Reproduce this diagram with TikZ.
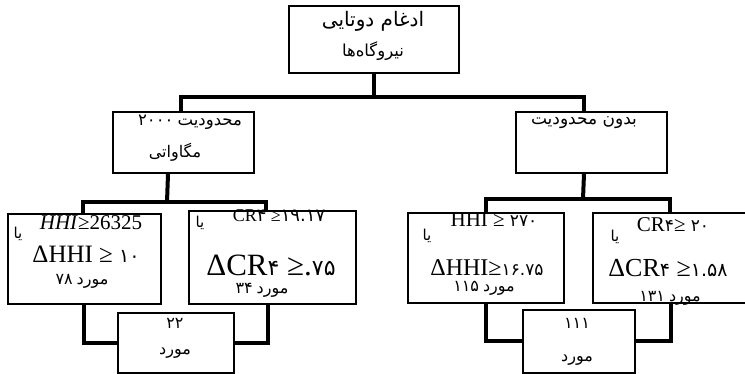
\documentclass[tikz,border=0pt]{standalone}
\usepackage{fontspec}
\setmainfont{Liberation Serif}
\newfontfamily\fa[Script=Arabic]{DejaVu Sans}
\TeXXeTstate=1
\newcommand\fr[1]{{\fa\beginR #1\endR}}
\newcommand\pd[1]{{\fa #1}}
\newcommand\fs[1]{\fontsize{#1}{#1}\selectfont}
\begin{document}
\begin{tikzpicture}[x=1pt,y=-1pt,
  box/.style={draw, line width=2pt, inner sep=0pt, anchor=north west},
  conn/.style={line width=4pt},
  txt/.style={inner sep=0pt, anchor=center}]
\clip (0,0) rectangle (745,374);
\fill[white] (0,0) rectangle (745,374);
% boxes
\node[box, minimum width=170pt, minimum height=67pt] (top) at (288,5) {};
\node[box, minimum width=141pt, minimum height=61pt] (lmid) at (112,111) {};
\node[box, minimum width=151pt, minimum height=61pt] (rmid) at (515,111) {};
\node[box, minimum width=153pt, minimum height=90pt] (b1) at (7,213) {};
\node[box, minimum width=167pt, minimum height=93pt] (b2) at (188,210) {};
\node[box, minimum width=156pt, minimum height=90pt] (b3) at (407,212) {};
\node[box, minimum width=160pt, minimum height=90pt] (b4) at (592,212) {};
\node[box, minimum width=116pt, minimum height=60pt] (s1) at (117,312) {};
\node[box, minimum width=112pt, minimum height=63pt] (s2) at (522,309) {};
% connectors
\coordinate (j0) at (373,97);
\coordinate (j1) at (167,202);
\coordinate (j2) at (583,199);
\draw[conn] (top.south) -- (top.south |- j0);
\draw[conn] ([xshift=-2.5pt]lmid.north) |- (j0) -| ([xshift=-7.5pt]rmid.north);
\draw[conn] ([xshift=-15.5pt]lmid.south) -- (j1);
\draw[conn] ([xshift=-1.5pt]b1.north) |- (j1) -| ([xshift=-6.5pt]b2.north);
\draw[conn] ([xshift=-7.5pt]rmid.south) -- (j2);
\draw[conn] (b3.north) |- (j2) -| ([xshift=-3pt]b4.north);
\draw[conn] ([xshift=-0.5pt]b1.south) |- (s1.west);
\draw[conn] ([xshift=-4.5pt]b2.south) |- (s1.east);
\draw[conn] (b3.south) |- (s2.west);
\draw[conn] ([xshift=-2pt]b4.south) |- (s2.east);
% texts
\node[txt] (t1) at (373,21) {\fs{20}\fr{ادغام دوتایی}};
\node[txt] (t2) at (373,51) {\fs{16.5}\fr{نیروگاه‌ها}};
\node[txt] (t3) at (190,122) {\fs{16.5}\pd{۲۰۰۰} \fr{محدودیت}};
\node[txt] (t4) at (175,152) {\fs{16}\fr{مگاواتی}};
\node[txt] (t5) at (584,123) {\fs{17}\fr{بدون محدودیت}};
% b1
\node[txt] (y1) at (18,234) {\fs{15}\fr{یا}};
\node[txt] (a1) at (91,223) {\fs{21}\textit{HHI}≥26325};
\node[txt] (a2) at (86,254) {\fs{25}ΔHHI ≥ \fs{19}\pd{۱۰}};
\node[txt] (a3) at (82,281) {\fs{16}\pd{۷۸} \fr{مورد}};
% b2
\node[txt] (y2) at (200,223) {\fs{15}\fr{یا}};
\node[txt] (c1) at (279,216) {\fs{18}CR\pd{۴} ≥\pd{۱۹.۱۷}};
\node[txt] (c2) at (271,265) {\fs{31}ΔCR\pd{\fs{22}۴} ≥.\pd{\fs{22}۷۵}};
\node[txt] (c3) at (262,290) {\fs{16}\pd{۳۴} \fr{مورد}};
% b3
\node[txt] (y3) at (427,236) {\fs{15}\fr{یا}};
\node[txt] (d1) at (494,220) {\fs{21}HHI ≥ \pd{\fs{17}۲۷۰}};
\node[txt] (d2) at (487,268) {\fs{24}ΔHHI≥\pd{\fs{17}۱۶.۷۵}};
\node[txt] (d3) at (484,288) {\fs{16}\pd{۱۱۵} \fr{مورد}};
% b4
\node[txt] (y4) at (615,237) {\fs{15}\fr{یا}};
\node[txt] (e1) at (673,225) {\fs{21}CR\pd{\fs{17}۴}≥ \pd{\fs{17}۲۰}};
\node[txt] (e2) at (668,268) {\fs{26}ΔCR\pd{\fs{19}۴} ≥\pd{\fs{19}۱.۵۸}};
\node[txt] (e3) at (670,298) {\fs{16}\pd{۱۳۱} \fr{مورد}};
% small boxes
\node[txt] (f1) at (175,323) {\fs{16}\pd{۲۲}};
\node[txt] (f2) at (175,353) {\fs{16}\fr{مورد}};
\node[txt] (g1) at (577,323) {\fs{16}\pd{۱۱۱}};
\node[txt] (g2) at (577,360) {\fs{16}\fr{مورد}};
\end{tikzpicture}
\end{document}
